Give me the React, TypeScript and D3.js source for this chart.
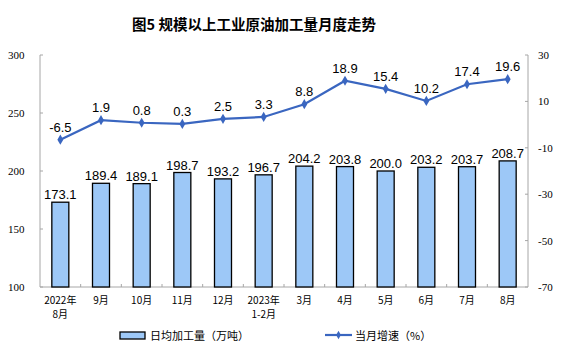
import React from "react";
import * as d3 from "d3";

const categories = ["2022年\n8月", "9月", "10月", "11月", "12月", "2023年\n1-2月", "3月", "4月", "5月", "6月", "7月", "8月"];
const dailyOutput = [173.1, 189.4, 189.1, 198.7, 193.2, 196.7, 204.2, 203.8, 200.0, 203.2, 203.7, 208.7];
const growth = [-6.5, 1.9, 0.8, 0.3, 2.5, 3.3, 8.8, 18.9, 15.4, 10.2, 17.4, 19.6];
const leftTicks = [100, 150, 200, 250, 300];
const rightTicks = [-70, -50, -30, -10, 10, 30];

const W = 569, H = 359;
const left = 40, right = 528, top = 55, bottom = 287;
const BAR_FILL = "#9DC8F7";
const LINE = "#3A66C0";
const AXIS = "#A6A6A6";
const SERIF = "'Times New Roman', 'Liberation Serif', serif";
const SANS = "Arial, 'Liberation Sans', 'Noto Sans CJK SC', sans-serif";
const CJK = "'Noto Sans CJK SC', sans-serif";

export default function App() {
  const x = d3.scaleBand<string>().domain(categories).range([left, right]).paddingInner(0).paddingOuter(0);
  const yL = d3.scaleLinear().domain([100, 300]).range([bottom, top]);
  const yR = d3.scaleLinear().domain([-70, 30]).range([bottom, top]);
  const bw = 17;
  const cx = (c: string) => (x(c) as number) + x.bandwidth() / 2;
  const line = d3.line<number>().x((_, i) => cx(categories[i])).y((d) => yR(d));
  const diamond = d3.symbol().type(d3.symbolDiamond).size(30)();

  return (
    <svg width={W} height={H} style={{ display: "block", position: "absolute", left: 0, top: 0 }}>
      <rect width={W} height={H} fill="#fff" />
      <text x={254} y={30} textAnchor="middle" fontFamily={CJK} fontWeight="bold" fontSize={14.5} fill="#000">
        图5 规模以上工业原油加工量月度走势
      </text>
      {/* axes */}
      <line x1={left} x2={left} y1={top} y2={bottom} stroke={AXIS} />
      <line x1={right} x2={right} y1={top} y2={bottom} stroke={AXIS} />
      <line x1={left} x2={right} y1={bottom} y2={bottom} stroke={AXIS} />
      {leftTicks.map((t) => (
        <g key={"l" + t}>
          <line x1={left} x2={left + 3} y1={yL(t)} y2={yL(t)} stroke={AXIS} />
          <text x={8} y={yL(t) + 4} fontFamily={SERIF} fontSize={11} fill="#000">{t}</text>
        </g>
      ))}
      {rightTicks.map((t) => (
        <g key={"r" + t}>
          <line x1={right - 3} x2={right} y1={yR(t)} y2={yR(t)} stroke={AXIS} />
          <text x={538} y={yR(t) + 4} fontFamily={SERIF} fontSize={11} fill="#000">{t}</text>
        </g>
      ))}
      {categories.slice(1).map((c) => (
        <line key={"xt" + c} x1={x(c) as number} x2={x(c) as number} y1={bottom} y2={bottom - 3} stroke={AXIS} />
      ))}
      {/* bars */}
      {dailyOutput.map((v, i) => {
        const c = categories[i];
        return (
          <g key={"b" + i}>
            <rect x={cx(c) - bw / 2} y={yL(v)} width={bw} height={bottom - yL(v)} fill={BAR_FILL} stroke="#000" strokeWidth={1.3} />
            <text x={cx(c)} y={yL(v) - 3} textAnchor="middle" fontFamily={SANS} fontSize={13} fill="#000">{v.toFixed(1)}</text>
          </g>
        );
      })}
      {/* line */}
      <path d={line(growth) || ""} fill="none" stroke={LINE} strokeWidth={2.2} />
      {growth.map((v, i) => {
        const c = categories[i];
        return (
          <g key={"p" + i}>
            <path d={diamond || ""} transform={`translate(${cx(c)},${yR(v)})`} fill={LINE} />
            <text x={cx(c)} y={yR(v) - 8} textAnchor="middle" fontFamily={SANS} fontSize={13} fill="#000">{v.toFixed(1)}</text>
          </g>
        );
      })}
      {/* x labels */}
      {categories.map((c) => {
        const lines = c.split("\n");
        return (
          <text key={"xl" + c} x={cx(c)} y={304} textAnchor="middle" fontFamily={CJK} fontSize={10} fill="#000">
            {lines.map((l, j) => (
              <tspan key={j} x={cx(c)} dy={j === 0 ? 0 : 14}>{l}</tspan>
            ))}
          </text>
        );
      })}
      {/* legend */}
      <rect x={120} y={332} width={25} height={7} fill={BAR_FILL} stroke="#000" strokeWidth={1.3} />
      <text x={150} y={340} fontFamily={CJK} fontSize={11} fill="#000">日均加工量（万吨）</text>
      <line x1={325} x2={352} y1={335} y2={335} stroke={LINE} strokeWidth={2.2} />
      <path d={d3.symbol().type(d3.symbolDiamond).size(20)() || ""} transform="translate(338.5,335)" fill={LINE} />
      <text x={355} y={340} fontFamily={CJK} fontSize={11} fill="#000">当月增速（%）</text>
    </svg>
  );
}
